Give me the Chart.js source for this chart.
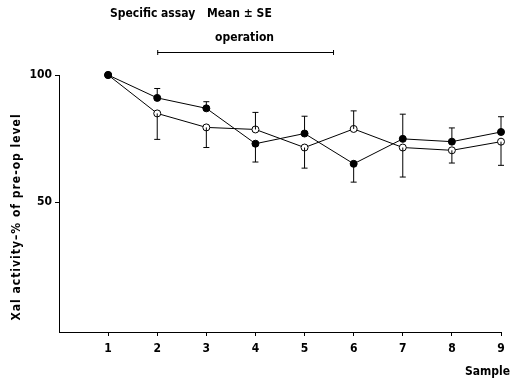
<!DOCTYPE html>
<html>
<head>
<meta charset="utf-8">
<script src="https://cdn.jsdelivr.net/npm/chart.js@4/dist/chart.umd.min.js"></script>
<style>
  html, body { margin: 0; padding: 0; background: #fff; }
  #wrap { width: 513px; height: 382px; position: relative; }
</style>
</head>
<body>
<div id="wrap"><canvas id="chart"></canvas></div>
<script>
// sample numbers on the x axis
var samples = [1, 2, 3, 4, 5, 6, 7, 8, 9];
// mean activity, % of pre-op level
var filledMean = [100, 91, 86.9, 73, 77, 65.1, 74.9, 73.8, 77.6];
var openMean   = [100, 84.9, 79.4, 78.6, 71.5, 78.8, 71.5, 70.4, 73.8];
// standard errors
var filledSE = [0, 3.7, 2.6, 7.2, 6.8, 7.2, 9.7, 5.4, 6];
var openSE   = [0, 10.2, 7.9, 6.7, 8.1, 7.1, 11.6, 5, 9.3];
var yTicks = [50, 100];
// operation period (in sample units)
var opStart = 2, opEnd = 5.6;

var FONT = '"DejaVu Sans Condensed", "Liberation Sans Narrow", sans-serif';

function toPoints(ys) {
    var pts = [];
    for (var i = 0; i < samples.length; i++) pts.push({x: samples[i], y: ys[i]});
    return pts;
}

var errorBars = {
    id: 'errorBars',
    afterDatasetsDraw: function(chart) {
        var ctx = chart.ctx, xs = chart.scales.x, ys = chart.scales.y;
        ctx.save();
        ctx.strokeStyle = '#000';
        ctx.lineWidth = 1;
        for (var i = 0; i < samples.length; i++) {
            var px = xs.getPixelForValue(samples[i]);
            var bars = [];
            // the higher series gets the upper bar, the lower one the lower bar
            if (filledMean[i] >= openMean[i]) {
                bars.push([filledMean[i], filledMean[i] + filledSE[i]]);
                bars.push([openMean[i], openMean[i] - openSE[i]]);
            } else {
                bars.push([filledMean[i], filledMean[i] - filledSE[i]]);
                bars.push([openMean[i], openMean[i] + openSE[i]]);
            }
            bars.forEach(function(b) {
                if (b[0] === b[1]) return;
                var y0 = ys.getPixelForValue(b[0]), y1 = ys.getPixelForValue(b[1]);
                ctx.beginPath();
                ctx.moveTo(px, y0); ctx.lineTo(px, y1);
                ctx.moveTo(px - 3, y1); ctx.lineTo(px + 3, y1);
                ctx.stroke();
            });
        }
        ctx.restore();
    }
};

var annotations = {
    id: 'annotations',
    afterDraw: function(chart) {
        var ctx = chart.ctx, xs = chart.scales.x;
        ctx.save();
        ctx.fillStyle = '#000';
        ctx.strokeStyle = '#000';
        ctx.font = 'bold 12px ' + FONT;
        ctx.textBaseline = 'middle';
        ctx.textAlign = 'left';
        ctx.fillText('Specific assay', 110, 14);
        ctx.fillText('Mean \u00B1 SE', 207, 14);
        ctx.fillText('operation', 215, 38);
        // operation bar
        var x0 = xs.getPixelForValue(opStart), x1 = xs.getPixelForValue(opEnd);
        ctx.lineWidth = 1;
        ctx.beginPath();
        ctx.moveTo(x0, 52.5); ctx.lineTo(x1, 52.5);
        ctx.moveTo(x0 + 0.5, 50); ctx.lineTo(x0 + 0.5, 55);
        ctx.moveTo(x1 - 0.5, 50); ctx.lineTo(x1 - 0.5, 55);
        ctx.stroke();
        // x axis title
        ctx.textAlign = 'right';
        ctx.fillText('Sample', 510, 372);
        // y axis title
        ctx.translate(17, 217);
        ctx.rotate(-Math.PI / 2);
        ctx.textAlign = 'center';
        ctx.letterSpacing = '1px';
        ctx.fillText('Xal activity\u2013% of pre-op level', 0, 0);
        ctx.restore();
    }
};

new Chart(document.getElementById('chart'), {
    type: 'line',
    data: {
        datasets: [{
            data: toPoints(filledMean),
            borderColor: '#000',
            borderWidth: 1,
            backgroundColor: '#000',
            pointBackgroundColor: '#000',
            pointBorderColor: '#000',
            pointRadius: 3.5,
            clip: false,
            tension: 0
        }, {
            data: toPoints(openMean),
            borderColor: '#000',
            borderWidth: 1,
            backgroundColor: '#fff',
            pointBackgroundColor: '#fff',
            pointBorderColor: '#000',
            pointBorderWidth: 1,
            pointRadius: 3.5,
            clip: false,
            tension: 0
        }]
    },
    options: {
        responsive: true,
        maintainAspectRatio: false,
        animation: false,
        layout: { padding: { left: 0, right: 12, top: 75, bottom: 0 } },
        plugins: { legend: { display: false }, tooltip: { enabled: false } },
        scales: {
            x: {
                type: 'linear',
                min: 0,
                max: 9,
                afterBuildTicks: function(scale) {
                    scale.ticks = samples.map(function(v) { return {value: v}; });
                },
                afterFit: function(scale) { scale.height = 50; },
                border: { color: '#000', width: 1 },
                grid: { drawOnChartArea: false, tickLength: 4, color: '#000' },
                ticks: { color: '#000', font: { family: FONT, size: 12, weight: 'bold' }, padding: 6, maxRotation: 0 }
            },
            y: {
                type: 'linear',
                min: -1,
                max: 100,
                afterBuildTicks: function(scale) {
                    scale.ticks = yTicks.map(function(v) { return {value: v}; });
                },
                afterFit: function(scale) { scale.width = 59; },
                border: { color: '#000', width: 1 },
                grid: { drawOnChartArea: false, tickLength: 4, color: '#000' },
                ticks: { color: '#000', font: { family: FONT, size: 12, weight: 'bold' }, padding: 3 }
            }
        }
    },
    plugins: [errorBars, annotations]
});
</script>
</body>
</html>
